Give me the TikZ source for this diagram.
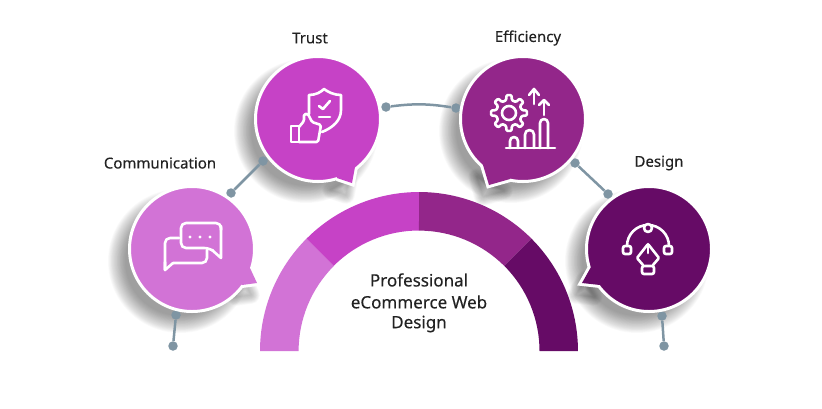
\documentclass[tikz,border=0pt]{standalone}
\usepackage{fontspec}
\setmainfont[FakeBold=0.25]{Noto Sans}
\definecolor{commcolor}{HTML}{D273D6}
\definecolor{trustcolor}{HTML}{C642C6}
\definecolor{effcolor}{HTML}{93268A}
\definecolor{designcolor}{HTML}{660B66}
\definecolor{linkcolor}{HTML}{7F95A3}
\definecolor{textcolor}{HTML}{222222}
\tikzset{
  bubble/.style={circle,minimum size=125pt,inner sep=0pt,draw=white,line width=3pt},
  dotnode/.style={circle,minimum size=9.5pt,inner sep=0pt,fill=linkcolor},
  link/.style={linkcolor,line width=2.5pt},
  heading/.style={text=textcolor,font=\fontsize{15}{17}\selectfont},
  centerheading/.style={text=textcolor,font=\fontsize{17}{19}\selectfont},
  icon/.style={white,line width=2.6pt,line join=round,line cap=round},
}
% soft shadow, lower left of a bubble
\newcommand{\bubbleshadow}[5]{
  \foreach \k in {0,...,23}{
    \pgfmathsetmacro{\rr}{72-0.75*\k}
    \fill[black,opacity=0.018] (#1-12,#2+12) circle (\rr);
    \pgfmathsetmacro{\ww}{18-0.75*\k}
    \draw[black,opacity=0.012,line width=\ww pt,line join=round,shift={(-6,12)}] #3 -- #4 -- #5 -- cycle;
  }
}
% bubble with its tail
\newcommand{\bubbledraw}[7]{
  \draw[white,line width=6pt,line join=miter] #5 -- #6 -- #7;
  \draw (#2,#3) node[bubble,fill=#4] (#1) {};
  \fill[#4] #5 -- #6 -- #7 -- (#2,#3) -- cycle;
}
\begin{document}
\begin{tikzpicture}[x=1pt,y=-1pt]
\useasboundingbox (0,0) rectangle (822,408);

\bubbleshadow{192}{249}{(250,268)}{(257,283)}{(242,285)}
\bubbleshadow{318}{119}{(355,167)}{(352,183)}{(337,178)}
\bubbleshadow{523}{119}{(483,165)}{(489,185)}{(510,179)}
\bubbleshadow{649}{249}{(591,267)}{(582,283)}{(600,285)}

% connectors
\draw (231,193) node[dotnode] (commtop) {};
\draw (263,161) node[dotnode] (trustleft) {};
\draw (176,315) node[dotnode] (commin) {};
\draw (173,346) node[dotnode] (commend) {};
\draw (386,107) node[dotnode] (trustright) {};
\draw (456,108) node[dotnode] (effleft) {};
\draw (575,163) node[dotnode] (effright) {};
\draw (608,194) node[dotnode] (designtop) {};
\draw (662,316) node[dotnode] (designin) {};
\draw (664,346) node[dotnode] (designend) {};
\draw[link] (commtop) -- (trustleft);
\draw[link] (commin) -- (commend);
\draw[link] (trustright) to[bend left=8] (effleft);
\draw[link] (effright) -- (designtop);
\draw[link] (designin) -- (designend);

% half ring
\fill[commcolor] (260,351) arc (180:225:159) -- (333.9,265.9) arc (225:180:120.5) -- cycle;
\fill[trustcolor] (306.6,238.6) arc (225:270:159) -- (419,230.5) arc (270:225:120.5) -- cycle;
\fill[effcolor] (419,192) arc (270:315:159) -- (504.2,265.9) arc (315:270:120.5) -- cycle;
\fill[designcolor] (531.4,238.6) arc (315:360:159) -- (539.5,351) arc (360:315:120.5) -- cycle;

\bubbledraw{comm}{192}{249}{commcolor}{(250,268)}{(257,283)}{(242,285)}
\bubbledraw{trust}{318}{119}{trustcolor}{(355,167)}{(352,183)}{(337,178)}
\bubbledraw{eff}{523}{119}{effcolor}{(483,165)}{(489,185)}{(510,179)}
\bubbledraw{design}{649}{249}{designcolor}{(591,267)}{(582,283)}{(600,285)}

% texts
\draw (160,163) node[heading] (commlabel) {Communication};
\draw (310,38) node[heading] (trustlabel) {Trust};
\draw (528,38) node[heading] (efflabel) {Efficiency};
\draw (659,163) node[heading] (designlabel) {Design};
\draw (419,280) node[centerheading] (centerone) {Professional};
\draw (419,302) node[centerheading] (centertwo) {eCommerce Web};
\draw (419,324) node[centerheading] (centerthree) {Design};

% chat icon
\draw[icon,rounded corners=5pt] (221,230) -- (221,223) -- (181,223) -- (181,248) -- (209,248) -- (212,250);
\draw[icon] (212,250) -- (221,258) -- (221,226);
\draw[icon,rounded corners=5pt] (179,238) -- (165,238) -- (165,270);
\draw[icon] (165,262) -- (165,270) -- (173,263);
\draw[icon,rounded corners=5pt] (173,263) -- (207,263) -- (207,250);
\foreach \dx in {190,200,210}
  \fill[white] (\dx,237) circle (1.6);

% shield and thumb icon
\draw[icon] (309,114) -- (309,95) .. controls (316,95) and (321,92) .. (324,89) .. controls (328,92) and (334,95) .. (341,95) -- (341,110) .. controls (341,121) and (332,128) .. (322,132);
\draw[icon] (319,106) -- (323,109) -- (330,101);
\draw[icon] (319,117) -- (330,117);
\draw[icon] (291,126) rectangle (299,142);
\draw[icon,rounded corners=1.5pt] (299,127) -- (304,121) -- (304,114) -- (308,114) -- (312,122) -- (321,125) -- (318,142) -- (299,142);

% gear and bars icon
\begin{scope}[shift={(509,113)}]
\draw[icon,rounded corners=1pt] (-13:13) \foreach \a in {0,45,...,315}{ -- (\a-13:13) -- (\a-8:18) -- (\a+8:18) -- (\a+13:13) } -- cycle;
\draw[icon] (0,0) circle (7);
\end{scope}
\draw[icon] (534,104) -- (534,89);
\draw[icon] (529,95) -- (534,89) -- (539,95);
\draw[icon] (544,115) -- (544,100);
\draw[icon] (539,105) -- (544,100) -- (549,105);
\draw[icon] (506,148) -- (555,148);
\draw[icon] (510,148) -- (510,141) arc (180:360:4) -- (518,148);
\draw[icon] (525,148) -- (525,134.5) arc (180:360:4.5) -- (534,148);
\draw[icon] (540,148) -- (540,123) arc (180:360:4) -- (548,148);

% pen icon
\draw[icon] (627,246) arc (180:360:21);
\draw[icon,fill=designcolor] (648,228) circle (4);
\draw[icon,fill=designcolor,rounded corners=2pt] (623,246) rectangle (631,254);
\draw[icon,fill=designcolor,rounded corners=2pt] (664,246) rectangle (672,254);
\draw[icon,rounded corners=1pt] (643,265) -- (637,258) -- (648,244) -- (659,258) -- (653,265);
\draw[icon] (648,244) -- (648,253);
\draw[icon,rounded corners=2pt] (642,266) rectangle (654,274);
\end{tikzpicture}
\end{document}
